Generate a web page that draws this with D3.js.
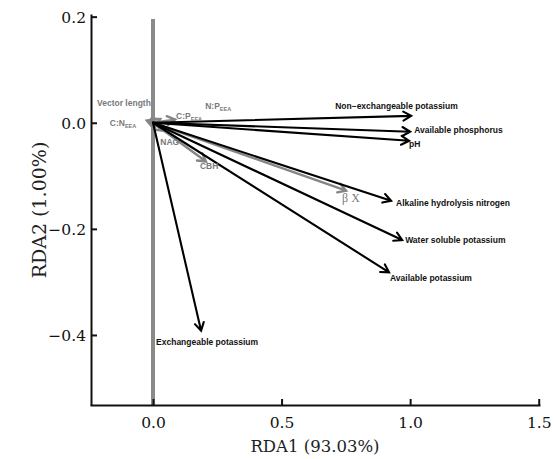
<!DOCTYPE html>
<html lang="en">
<head>
  <meta charset="UTF-8">
  <title>RDA biplot</title>
  <script src="https://d3js.org/d3.v7.min.js"></script>
  <style>
    * { margin: 0; padding: 0; box-sizing: border-box; }
    body { background: #fff; width: 556px; height: 459px; overflow: hidden; }
    .tick-label { font-family: 'DejaVu Serif', 'Liberation Serif', serif; font-size: 15.5px; fill: #111; }
    .axis-title { font-family: 'DejaVu Serif', 'Liberation Serif', serif; fill: #222; }
    .lab { font-family: 'Liberation Sans', Arial, sans-serif; font-weight: bold; font-size: 8.5px; }
  </style>
</head>
<body>
  <svg id="chart" width="556" height="459"></svg>
  <script>
    // soil properties (black arrows)
    const soilNames = ["Non\u2212exchangeable potassium", "Available phosphorus", "pH",
      "Alkaline hydrolysis nitrogen", "Water soluble potassium", "Available potassium",
      "Exchangeable potassium"];
    const soilRDA1 = [1.004, 1.000, 0.996, 0.926, 0.969, 0.918, 0.187];
    const soilRDA2 = [0.013, -0.017, -0.034, -0.147, -0.221, -0.282, -0.392];

    // enzyme variables (grey arrows)
    const enzNames = ["C:N", "C:P", "N:P", "NAG", "CBH", "\u03b2X"];
    const enzRDA1 = [-0.024, 0.086, 0.028, 0.040, 0.206, 0.751];
    const enzRDA2 = [0.004, 0.006, 0.007, -0.015, -0.073, -0.128];

    const xTicks = [0, 0.5, 1.0, 1.5];
    const yTicks = [0.2, 0, -0.2, -0.4];

    // label offsets from arrow tips (px)
    const soilLabelOffset = [[-76, -7], [4, 1], [0, 6], [5, 5], [3, 3], [1, 9], [-45, 14]];
    const enzLabelOffset = [[-37, 5], [1, -1], [45, -10], [-3, 14], [-6, 8], [-4, 11]];

    const svg = d3.select("#chart");
    const x = d3.scaleLinear().domain([-0.245, 1.505]).range([90, 540]);
    const y = d3.scaleLinear().domain([-0.532, 0.205]).range([405, 14]);

    // vertical grey line at RDA1 = 0
    svg.append("line")
      .attr("x1", x(0)).attr("x2", x(0))
      .attr("y1", 19).attr("y2", y.range()[0])
      .attr("stroke", "#8a8a8a").attr("stroke-width", 4);

    // axes
    const xAxis = svg.append("g").attr("transform", `translate(0,${y.range()[0]})`)
      .call(d3.axisBottom(x).tickValues(xTicks).tickSizeInner(-6).tickSizeOuter(0).tickFormat(d3.format(".1f")));
    const yAxis = svg.append("g").attr("transform", `translate(${x.range()[0] + 1},0)`)
      .call(d3.axisLeft(y).tickValues(yTicks).tickSizeInner(-6).tickSizeOuter(0)
        .tickFormat(d => d3.format(".1f")(d).replace("-", "\u2212")));
    [xAxis, yAxis].forEach(g => {
      g.select(".domain").attr("stroke", "#111").attr("stroke-width", 2);
      g.selectAll(".tick line").attr("stroke", "#111").attr("stroke-width", 2);
      g.selectAll(".tick text").attr("class", "tick-label").attr("font-family", null).attr("font-size", null);
    });
    xAxis.selectAll(".tick text").attr("dy", "1.3em");
    yAxis.selectAll(".tick text").attr("x", -5).attr("dy", "0.35em");

    svg.append("text").attr("class", "axis-title").attr("font-size", 16.5)
      .attr("x", 315).attr("y", 452).attr("text-anchor", "middle")
      .text("RDA1 (93.03%)");
    svg.append("text").attr("class", "axis-title").attr("font-size", 19)
      .attr("transform", "translate(46,210) rotate(-90)").attr("text-anchor", "middle")
      .text("RDA2 (1.00%)");

    function arrow(x1, y1, color, width) {
      const px0 = x(0), py0 = y(0), px1 = x(x1), py1 = y(y1);
      const ang = Math.atan2(py1 - py0, px1 - px0);
      const len = 9, spread = Math.PI / 6;
      const a1 = [px1 - len * Math.cos(ang - spread), py1 - len * Math.sin(ang - spread)];
      const a2 = [px1 - len * Math.cos(ang + spread), py1 - len * Math.sin(ang + spread)];
      svg.append("path")
        .attr("d", `M${px0},${py0}L${px1},${py1}M${a1[0]},${a1[1]}L${px1},${py1}L${a2[0]},${a2[1]}`)
        .attr("fill", "none").attr("stroke", color).attr("stroke-width", width)
        .attr("stroke-linecap", "round").attr("stroke-linejoin", "miter");
    }

    enzRDA1.forEach((v, i) => arrow(v, enzRDA2[i], "#858585", 2.4));
    soilRDA1.forEach((v, i) => arrow(v, soilRDA2[i], "#000", 2.1));

    soilNames.forEach((n, i) => {
      svg.append("text").attr("class", "lab").attr("fill", "#111")
        .attr("x", x(soilRDA1[i]) + soilLabelOffset[i][0])
        .attr("y", y(soilRDA2[i]) + soilLabelOffset[i][1])
        .text(n);
    });

    enzNames.forEach((n, i) => {
      const t = svg.append("text").attr("class", "lab").attr("fill", "#7a7a7a")
        .attr("x", x(enzRDA1[i]) + enzLabelOffset[i][0])
        .attr("y", y(enzRDA2[i]) + enzLabelOffset[i][1]);
      if (n === "\u03b2X") {
        t.attr("style", "font-family:'Liberation Serif',serif;font-weight:normal;font-size:12px")
          .text("\u03b2 X");
      } else if (n.includes(":")) {
        t.text(n);
        t.append("tspan").attr("font-size", "5.5px").attr("dy", 2).text("EEA");
      } else {
        t.text(n);
      }
    });

    svg.append("text").attr("class", "lab").attr("fill", "#7a7a7a")
      .attr("x", 97).attr("y", 106).text("Vector length");
  </script>
</body>
</html>
